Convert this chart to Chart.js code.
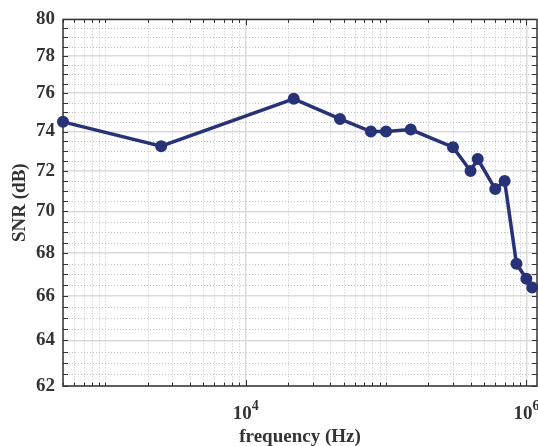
<!DOCTYPE html>
<html>
<head>
<meta charset="utf-8">
<script src="https://cdn.jsdelivr.net/npm/chart.js@4.4.0/dist/chart.umd.min.js"></script>
<style>
  html, body { margin: 0; padding: 0; background: #fff; }
  #wrap { width: 538px; height: 446px; }
</style>
</head>
<body>
<div id="wrap"><canvas id="myChart" width="538" height="446"></canvas></div>
<script>
// SNR vs frequency, log-log axes

const freqHz = [500, 2500, 22000, 47000, 78000, 100000, 150000, 300000, 400000, 450000, 600000, 700000, 850000, 1000000, 1100000];
const snrDb = [74.5, 73.25, 75.7, 74.65, 74.0, 74.0, 74.1, 73.2, 72.0, 72.6, 71.1, 71.5, 67.5, 66.8, 66.4];
const yTicks = [62, 64, 66, 68, 70, 72, 74, 76, 78, 80];
const xMajor = [1e4, 1e6];
const xTickLabels = [['10', '4'], ['10', '6']];

const X_MIN = 500, X_MAX = 1.19e6;
const FONT = '"Liberation Serif", "Times New Roman", serif';

// minor tick positions
const xMinor = [];
for (let d = 100; d <= 1e6; d *= 10) {
    for (let k = 1; k <= 9; k++) {
        const v = k * d;
        if (v >= X_MIN && v <= X_MAX && !xMajor.includes(v)) xMinor.push(v);
    }
}
const yMinor = [];
for (let v = 62.5; v < 80; v += 0.5) {
    if (!yTicks.includes(v)) yMinor.push(v);
}

const axisBox = {
    id: 'axisBox',
    beforeDatasetsDraw(chart) {
        const {ctx, chartArea: a, scales: {x, y}} = chart;
        ctx.save();
        // dotted minor grid
        ctx.strokeStyle = '#c4c4c4';
        ctx.lineWidth = 1;
        ctx.setLineDash([1, 2]);
        ctx.beginPath();
        xMinor.forEach(v => {
            const px = Math.round(x.getPixelForValue(v)) + 0.5;
            ctx.moveTo(px, a.top); ctx.lineTo(px, a.bottom);
        });
        yMinor.forEach(v => {
            const py = Math.round(y.getPixelForValue(v)) + 0.5;
            ctx.moveTo(a.left, py); ctx.lineTo(a.right, py);
        });
        ctx.stroke();
        ctx.setLineDash([]);

        // box and inward ticks
        ctx.strokeStyle = '#333';
        ctx.lineWidth = 1.5;
        ctx.strokeRect(a.left, a.top, a.right - a.left, a.bottom - a.top);
        ctx.lineWidth = 1;
        ctx.beginPath();
        const xt = (v, len) => {
            const px = Math.round(x.getPixelForValue(v)) + 0.5;
            ctx.moveTo(px, a.bottom); ctx.lineTo(px, a.bottom - len);
            ctx.moveTo(px, a.top); ctx.lineTo(px, a.top + len);
        };
        xMinor.forEach(v => xt(v, 3.5));
        xMajor.forEach(v => xt(v, 6));
        yMinor.concat(yTicks).forEach(v => {
            const py = Math.round(y.getPixelForValue(v)) + 0.5;
            ctx.moveTo(a.left, py); ctx.lineTo(a.left + 5, py);
            ctx.moveTo(a.right, py); ctx.lineTo(a.right - 5, py);
        });
        ctx.stroke();
        ctx.restore();
    },
    afterDraw(chart) {
        // 10^n labels with superscript
        const {ctx, chartArea: a, scales: {x}} = chart;
        ctx.save();
        ctx.fillStyle = '#333';
        ctx.textBaseline = 'alphabetic';
        ctx.textAlign = 'left';
        xMajor.forEach((v, i) => {
            const [base, exp] = xTickLabels[i];
            ctx.font = 'bold 19px ' + FONT;
            const wb = ctx.measureText(base).width;
            ctx.font = 'bold 14px ' + FONT;
            const we = ctx.measureText(exp).width;
            const cx = x.getPixelForValue(v);
            const left = cx - (wb + we) / 2;
            ctx.font = 'bold 19px ' + FONT;
            ctx.fillText(base, left, a.bottom + 33);
            ctx.font = 'bold 14px ' + FONT;
            ctx.fillText(exp, left + wb, a.bottom + 24);
        });
        ctx.restore();
    }
};

const ctx = document.getElementById('myChart').getContext('2d');
const myChart = new Chart(ctx, {
    type: 'line',
    data: {
        datasets: [{
            label: 'SNR',
            data: freqHz.map((f, i) => ({x: f, y: snrDb[i]})),
            borderColor: '#283377',
            backgroundColor: '#283377',
            borderWidth: 3.5,
            pointRadius: 5,
            pointBorderWidth: 2,
            pointBorderColor: '#283377',
            pointBackgroundColor: '#283377',
            tension: 0,
            clip: false
        }]
    },
    options: {
        responsive: false,
        animation: false,
        layout: {autoPadding: false, padding: {top: 17, right: 1, left: 0, bottom: 0}},
        plugins: {legend: {display: false}, tooltip: {enabled: false}},
        scales: {
            x: {
                type: 'logarithmic',
                min: X_MIN,
                max: X_MAX,
                afterBuildTicks: s => { s.ticks = xMajor.map(v => ({value: v, major: true})); },
                afterFit: s => { s.height = 60; },
                ticks: {display: false},
                grid: {color: '#dcdcdc', lineWidth: 1.5, drawTicks: false},
                border: {display: false},
                title: {
                    display: true,
                    text: 'frequency (Hz)',
                    color: '#333',
                    font: {family: FONT, size: 19, weight: 'bold'},
                    padding: {top: 0, bottom: -2}
                }
            },
            y: {
                type: 'logarithmic',
                min: 62,
                max: 80,
                afterBuildTicks: s => { s.ticks = yTicks.map(v => ({value: v})); },
                afterFit: s => { s.width = 63; },
                ticks: {
                    callback: v => String(v),
                    color: '#333',
                    padding: 8,
                    font: {family: FONT, size: 19, weight: 'bold'}
                },
                grid: {color: '#dcdcdc', lineWidth: 1.5, drawTicks: false},
                border: {display: false},
                title: {
                    display: true,
                    text: 'SNR (dB)',
                    color: '#333',
                    font: {family: FONT, size: 19, weight: 'bold'},
                    padding: {top: 9, bottom: 0}
                }
            }
        }
    },
    plugins: [axisBox]
});
</script>
</body>
</html>
